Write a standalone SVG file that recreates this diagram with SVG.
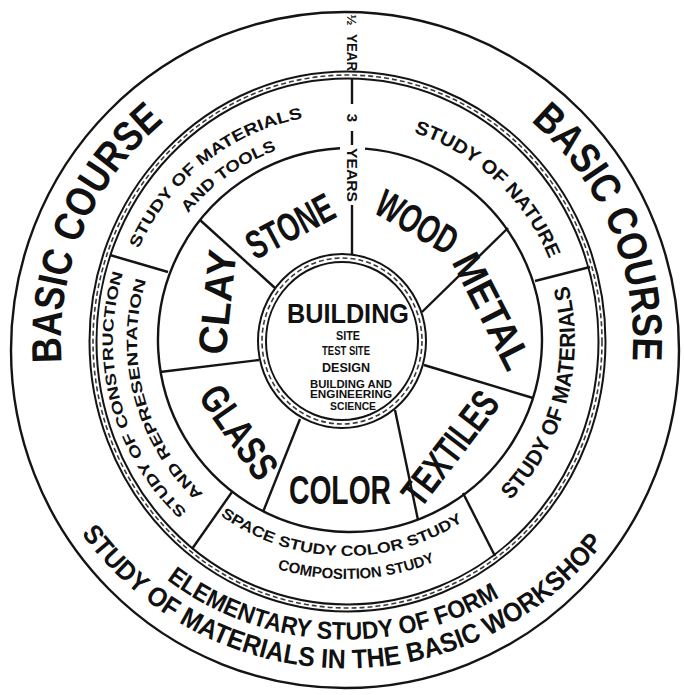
<svg xmlns="http://www.w3.org/2000/svg" width="684" height="695" viewBox="0 0 684 695">
<style>
.ln{fill:none;stroke:#141414;stroke-width:2.4}
.dbl{fill:none;stroke:#141414;stroke-width:2}
.chain{fill:none;stroke:#3a3a3a;stroke-width:1.6;stroke-dasharray:5 3}
.t{font-family:"Liberation Sans","DejaVu Sans",Arial,sans-serif;font-weight:bold;fill:#111;text-anchor:middle}
.st{text-anchor:start}
.big{font-size:40px}
</style>
<defs>
<path id="pBasicL" d="M127.7,524.2 A285,285 0 0 1 326.1,56.7"/>
<path id="pBasicR" d="M371.0,55.1 A287,287 0 0 1 569.0,521.6"/>
<path id="pElem" d="M65.5,443.1 A298.5,298.5 0 0 0 614.3,471.9"/>
<path id="pWork" d="M20.2,369.5 A327,327 0 0 0 670.6,380.9"/>
<path id="pNature" d="M271.1,135.2 A219,219 0 0 1 556.5,401.4"/>
<path id="pTools1" d="M121.5,374.6 A227,227 0 0 1 429.2,129.8"/>
<path id="pTools2" d="M143.9,360.5 A203,203 0 0 1 430.2,156.3"/>
<path id="pCons1" d="M285.7,566.1 A233,233 0 0 1 181.2,176.2"/>
<path id="pCons2" d="M291.9,542.9 A209,209 0 0 1 198.2,193.2"/>
<path id="pMatR" d="M405.3,562.2 A229,229 0 0 0 507.9,179.1"/>
<path id="pSpace1" d="M157.2,443.9 A215,215 0 0 0 529.5,453.0"/>
<path id="pSpace2" d="M145.5,469.3 A238,238 0 0 0 557.3,450.5"/>
</defs>
<rect width="684" height="695" fill="#fff"/>

<g id="outer-ring">
<ellipse class="ln" cx="345" cy="350" rx="334" ry="338"/>
<text class="t" style="font-size:42px"><textPath href="#pBasicL" startOffset="50%" textLength="272" lengthAdjust="spacingAndGlyphs">BASIC COURSE</textPath></text>
<text class="t" style="font-size:42px"><textPath href="#pBasicR" startOffset="50%" textLength="270" lengthAdjust="spacingAndGlyphs">BASIC COURSE</textPath></text>
<text class="t" style="font-size:25px"><textPath href="#pElem" startOffset="50%" textLength="354" lengthAdjust="spacingAndGlyphs">ELEMENTARY STUDY OF FORM</textPath></text>
<text class="t" style="font-size:27px"><textPath href="#pWork" startOffset="50%" textLength="605" lengthAdjust="spacingAndGlyphs">STUDY OF MATERIALS IN THE BASIC WORKSHOP</textPath></text>
<text class="t" style="font-size:13px" transform="translate(352,20) rotate(90)" dy="0.35em">½</text>
<text class="t st" style="font-size:14px" transform="translate(352,34) rotate(90)" dy="0.35em" textLength="37" lengthAdjust="spacingAndGlyphs">YEAR</text>
</g>

<g id="double-ring">
<ellipse class="dbl" cx="347.5" cy="341.5" rx="258" ry="270"/>
<ellipse class="chain" cx="347.5" cy="341.5" rx="254.5" ry="266.5"/>
<ellipse class="dbl" cx="347.5" cy="341.5" rx="251" ry="263"/>
</g>

<g id="study-ring">
<text class="t" style="font-size:19px"><textPath href="#pNature" startOffset="50%" textLength="191" lengthAdjust="spacingAndGlyphs">STUDY OF NATURE</textPath></text>
<text class="t" style="font-size:16px"><textPath href="#pTools1" startOffset="50%" textLength="218" lengthAdjust="spacingAndGlyphs">STUDY OF MATERIALS</textPath></text>
<text class="t" style="font-size:16px"><textPath href="#pTools2" startOffset="50%" textLength="110" lengthAdjust="spacingAndGlyphs">AND TOOLS</textPath></text>
<text class="t" style="font-size:15px"><textPath href="#pCons1" startOffset="50%" textLength="260" lengthAdjust="spacingAndGlyphs">STUDY OF CONSTRUCTION</textPath></text>
<text class="t" style="font-size:15px"><textPath href="#pCons2" startOffset="50%" textLength="233" lengthAdjust="spacingAndGlyphs">AND REPRESENTATION</textPath></text>
<text class="t" style="font-size:22px"><textPath href="#pMatR" startOffset="50%" textLength="232" lengthAdjust="spacingAndGlyphs">STUDY OF MATERIALS</textPath></text>
<text class="t" style="font-size:15px"><textPath href="#pSpace1" startOffset="50%" textLength="258" lengthAdjust="spacingAndGlyphs">SPACE STUDY COLOR STUDY</textPath></text>
<text class="t" style="font-size:15px"><textPath href="#pSpace2" startOffset="50%" textLength="161" lengthAdjust="spacingAndGlyphs">COMPOSITION STUDY</textPath></text>
<text class="t" style="font-size:15px" transform="translate(352,118) rotate(90)" dy="0.35em">3</text>
<text class="t st" style="font-size:15px" transform="translate(352,148) rotate(90)" dy="0.35em" textLength="54" lengthAdjust="spacingAndGlyphs">YEARS</text>
</g>

<g id="materials-ring">
<path class="ln" d="M340,148.26 A192,192 0 1 0 365,148.59"/>
<text class="t big" transform="translate(290,226) rotate(-28)" dy="0.35em" textLength="94" lengthAdjust="spacingAndGlyphs">STONE</text>
<text class="t big" transform="translate(417,222) rotate(30)" dy="0.35em" textLength="88" lengthAdjust="spacingAndGlyphs">WOOD</text>
<text class="t big" transform="translate(492,311) rotate(63)" dy="0.35em" textLength="125" lengthAdjust="spacingAndGlyphs">METAL</text>
<text class="t big" transform="translate(450,448) rotate(-52.5)" dy="0.35em" textLength="132" lengthAdjust="spacingAndGlyphs">TEXTILES</text>
<text class="t big" transform="translate(340,490)" dy="0.35em" textLength="102" lengthAdjust="spacingAndGlyphs">COLOR</text>
<text class="t big" transform="translate(239,432) rotate(55)" dy="0.35em" textLength="105" lengthAdjust="spacingAndGlyphs">GLASS</text>
<text class="t big" transform="translate(217,302) rotate(-84)" dy="0.35em" textLength="105" lengthAdjust="spacingAndGlyphs">CLAY</text>
</g>

<g id="center">
<ellipse class="dbl" cx="342" cy="341" rx="84" ry="87"/>
<ellipse class="chain" cx="342" cy="341" rx="80" ry="83"/>
<ellipse class="dbl" cx="342" cy="341" rx="76" ry="79"/>
<text class="t" style="font-size:28px" x="348" y="323" textLength="122" lengthAdjust="spacingAndGlyphs">BUILDING</text>
<text class="t" style="font-size:12px" x="348" y="340" textLength="24" lengthAdjust="spacingAndGlyphs">SITE</text>
<text class="t" style="font-size:12px" x="346" y="355" textLength="48" lengthAdjust="spacingAndGlyphs">TEST SITE</text>
<text class="t" style="font-size:12px" x="346" y="372" textLength="48" lengthAdjust="spacingAndGlyphs">DESIGN</text>
<text class="t" style="font-size:10px" x="351" y="388" textLength="82" lengthAdjust="spacingAndGlyphs">BUILDING AND</text>
<text class="t" style="font-size:10px" x="351" y="398" textLength="82" lengthAdjust="spacingAndGlyphs">ENGINEERING</text>
<text class="t" style="font-size:10px" x="353" y="410" textLength="46" lengthAdjust="spacingAndGlyphs">SCIENCE</text>
</g>

<g id="connectors">
<line class="ln" x1="352" y1="78" x2="352" y2="104"/>
<line class="ln" x1="352" y1="131" x2="352" y2="145"/>
<line class="ln" x1="352" y1="205" x2="352" y2="255"/>
<line class="ln" x1="200" y1="220" x2="275" y2="288"/>
<line class="ln" x1="160" y1="372" x2="259" y2="360"/>
<line class="ln" x1="300" y1="419" x2="263" y2="512"/>
<line class="ln" x1="395" y1="410" x2="418" y2="520"/>
<line class="ln" x1="424" y1="365" x2="533" y2="398"/>
<line class="ln" x1="422" y1="312" x2="508" y2="228"/>
<line class="ln" x1="168" y1="272" x2="110" y2="255"/>
<line class="ln" x1="535" y1="281" x2="590" y2="267"/>
<line class="ln" x1="463" y1="493" x2="495" y2="556"/>
<line class="ln" x1="232" y1="492" x2="192" y2="549"/>
</g>
</svg>
